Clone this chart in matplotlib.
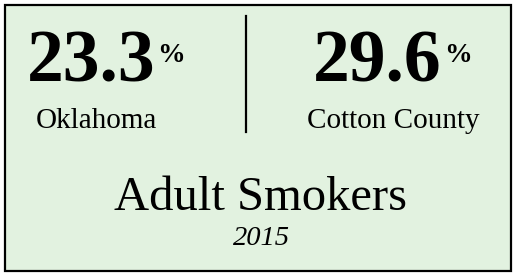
import matplotlib
matplotlib.use("Agg")
import matplotlib.pyplot as plt
from matplotlib.patches import Rectangle

values = ["23.3", "29.6"]
labels = ["Oklahoma", "Cotton County"]
title = "Adult Smokers"
year = "2015"

W, H = 514, 273
fig = plt.figure(figsize=(W / 100, H / 100), dpi=100)
fig.patch.set_facecolor("white")
ax = fig.add_axes([0, 0, 1, 1])
ax.set_xlim(0, W)
ax.set_ylim(H, 0)
ax.axis("off")

ax.add_patch(Rectangle((4.5, 4.5), 506.5, 266, facecolor="#E2F2E0",
                       edgecolor="black", linewidth=1.6))
ax.plot([245.5, 245.5], [16, 132], color="black", lw=1.6)

serif = ["Liberation Serif", "DejaVu Serif"]
num_centers = [91, 377]
lab_centers = [96, 393]
pct_left = [157, 444]
for cx, lx, px, v, lab in zip(num_centers, lab_centers, pct_left, values, labels):
    ax.text(cx, 81, v, fontsize=53, fontweight="bold", family=serif,
            ha="center", va="baseline")
    ax.text(px, 62, "%", fontsize=20, fontweight="bold",
            family=serif, ha="left", va="baseline")
    ax.text(lx, 128, lab, fontsize=21, family=serif,
            ha="center", va="baseline")

ax.text(260, 210, title, fontsize=35, family=serif, ha="center", va="baseline")
ax.text(261, 245, year, fontsize=20.5, family=serif, style="italic",
        ha="center", va="baseline")

fig.savefig("out.png", dpi=100)
